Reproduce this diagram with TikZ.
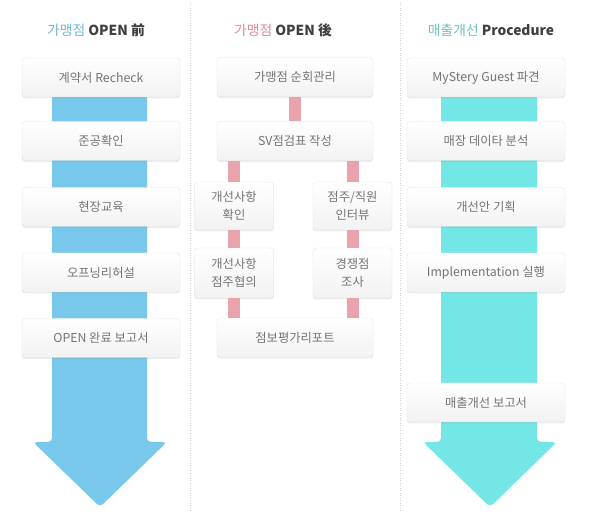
\documentclass[tikz,border=0pt]{standalone}
\usepackage{fontspec}
\setmainfont{Noto Sans CJK KR}
\usepackage{xcolor}
\usetikzlibrary{positioning, shadows}
\definecolor{Pre_Blue}{HTML}{78C8EB}
\definecolor{Post_Pink}{HTML}{E8A3AD}
\definecolor{Proc_Cyan}{HTML}{73E6E6}
\definecolor{Box_Text}{HTML}{747474}
\definecolor{Head_Text}{HTML}{3F3F3F}
\definecolor{Head_Blue}{HTML}{6FB6D3}
\definecolor{Head_Pink}{HTML}{D98C97}
\definecolor{Head_Teal}{HTML}{6CC0C0}

\begin{document}
\begin{tikzpicture}[x=1pt, y=-1pt,
    stagebox/.style={draw=gray!22, rounded corners=3pt, top color=white, bottom color=gray!10,
        drop shadow={opacity=0.15, shadow xshift=0pt, shadow yshift=-1.5pt},
        text=Box_Text, font=\fontsize{12.3}{17.5}\selectfont, align=center,
        minimum height=39pt, inner sep=2pt},
    widebox/.style={stagebox, minimum width=158pt},
    smallbox/.style={stagebox, minimum width=79pt},
    header/.style={font=\fontsize{13.8}{16}\selectfont, text=Head_Text},
    link/.style={Post_Pink, line width=12pt}]
    \useasboundingbox (0,0) rectangle (590,526);

    % Column dividers
    \draw[gray!35, dash pattern=on 1pt off 1.5pt] (190,3) -- (190,512);
    \draw[gray!35, dash pattern=on 1pt off 1.5pt] (400,3) -- (400,512);

    % Headers
    \node[header] (head1) at (96,30) {\textcolor{Head_Blue}{가맹점} \textbf{OPEN 前}};
    \node[header] (head2) at (283,30) {\textcolor{Head_Pink}{가맹점} \textbf{OPEN 後}};
    \node[header] (head3) at (491,30) {\textcolor{Head_Teal}{매출개선} \textbf{Procedure}};

    % Big arrows
    \fill[Pre_Blue, rounded corners=4pt] (52,90) -- (52,442) -- (33,442) -- (100,507)
        -- (167,442) -- (147,442) -- (147,90) -- cycle;
    \fill[Proc_Cyan, rounded corners=4pt] (441,90) -- (441,442) -- (423,442) -- (490,507)
        -- (557,442) -- (537,442) -- (537,90) -- cycle;

    % Before OPEN
    \foreach \n/\y/\t in {a/77.5/계약서 Recheck, b/141/준공확인, c/207/현장교육,
                          d/272.5/오프닝리허설, e/338/OPEN 완료 보고서} {
        \node[widebox] (pre\n) at (101,\y) {\t};
    }

    % Procedure
    \foreach \n/\y/\t in {a/77.5/MyStery Guest 파견, b/141/매장 데이타 분석, c/207/개선안 기획,
                          d/272.5/Implementation 실행, e/402.5/매출개선 보고서} {
        \node[widebox] (proc\n) at (486,\y) {\t};
    }

    % After OPEN
    \node[widebox, minimum width=156pt] (tour) at (295,77) {가맹점 순회관리};
    \node[widebox, minimum width=156pt] (check) at (295,141) {SV점검표 작성};
    \node[smallbox, minimum height=48pt] (fixok) at (234,206) {개선사항\\확인};
    \node[smallbox, minimum height=48pt] (talk) at (352.5,206) {점주/직원\\인터뷰};
    \node[smallbox, minimum height=50pt] (agree) at (234,273) {개선사항\\점주협의};
    \node[smallbox, minimum height=50pt] (rival) at (352.5,273) {경쟁점\\조사};
    \node[widebox, minimum width=156pt] (report) at (295,337.5) {점보평가리포트};

    \draw[link] (tour.south) -- (check.north);
    \draw[link] (check.south -| fixok.north) -- (fixok.north);
    \draw[link] (check.south -| talk.north) -- (talk.north);
    \draw[link] (fixok.south) -- (agree.north);
    \draw[link] (talk.south) -- (rival.north);
    \draw[link] (agree.south) -- (agree.south |- report.north);
    \draw[link] (rival.south) -- (rival.south |- report.north);
\end{tikzpicture}
\end{document}
